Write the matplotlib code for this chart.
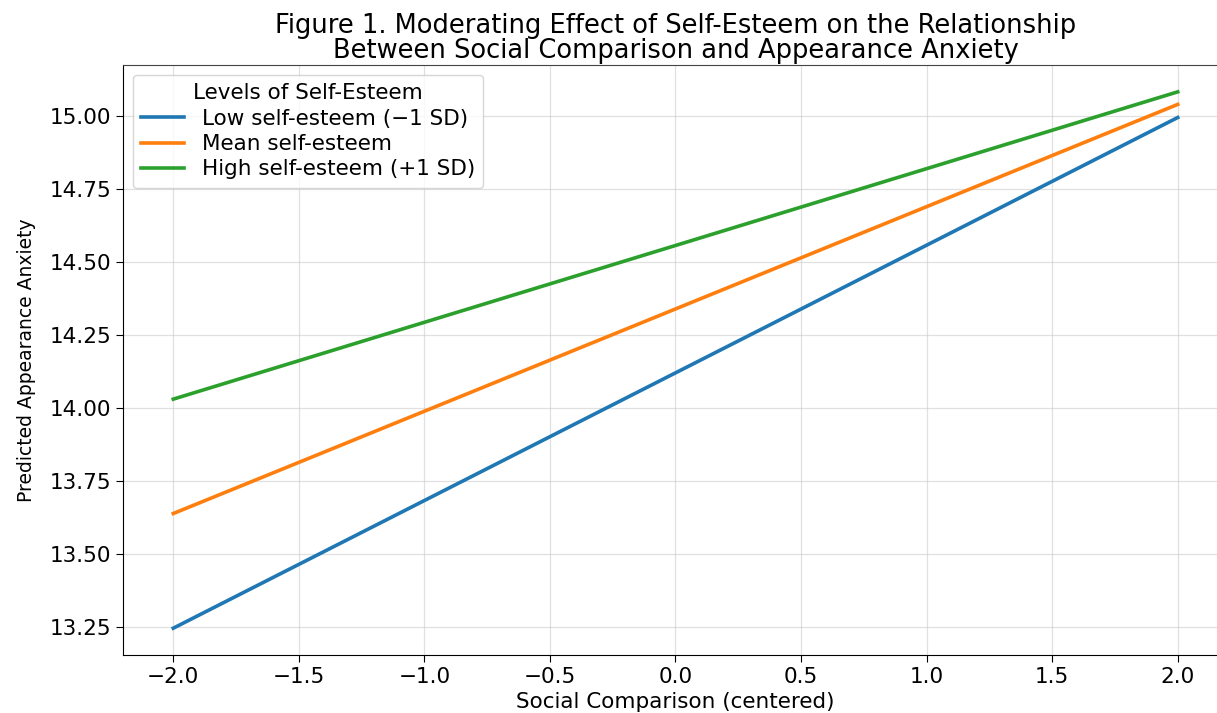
import numpy as np
import matplotlib.pyplot as plt

# social comparison (centered), endpoints of the simple slopes
x_vals = [-2.0, 2.0]
low_se = [13.245, 14.995]
mean_se = [13.638, 15.040]
high_se = [14.030, 15.083]

labels = ['Low self-esteem (\u22121 SD)', 'Mean self-esteem', 'High self-esteem (+1 SD)']
colors = ['#1f77b4', '#ff7f0e', '#2ca02c']

fig = plt.figure(figsize=(12.17, 7.13), dpi=100)
ax = fig.add_axes([0.1011, 0.0813, 0.9079, 0.8275])

for ys, lab, c in zip([low_se, mean_se, high_se], labels, colors):
    ax.plot(x_vals, ys, label=lab, color=c, linewidth=2.6)

ax.set_xticks(np.arange(-2.0, 2.01, 0.5))
ax.set_yticks([13.25, 13.50, 13.75, 14.00, 14.25, 14.50, 14.75, 15.00])
ax.tick_params(labelsize=15.5, length=5)
ax.grid(True, color='#cccccc', alpha=0.6, linewidth=0.9)
ax.spines['right'].set_visible(False)
ax.spines['top'].set_color('#444444')

ax.set_xlabel('Social Comparison (centered)', fontsize=15.5, labelpad=4)
ax.set_ylabel('Predicted Appearance Anxiety', fontsize=13.5, labelpad=10)
ax.set_title('Figure 1. Moderating Effect of Self-Esteem on the Relationship\n'
             'Between Social Comparison and Appearance Anxiety', fontsize=18.5, pad=5,
             linespacing=0.95)

ax.legend(title='Levels of Self-Esteem', loc='upper left', fontsize=15.5, title_fontsize=15.5,
          labelspacing=0.25, borderaxespad=0.45)

fig.savefig('out.png', dpi=100)
